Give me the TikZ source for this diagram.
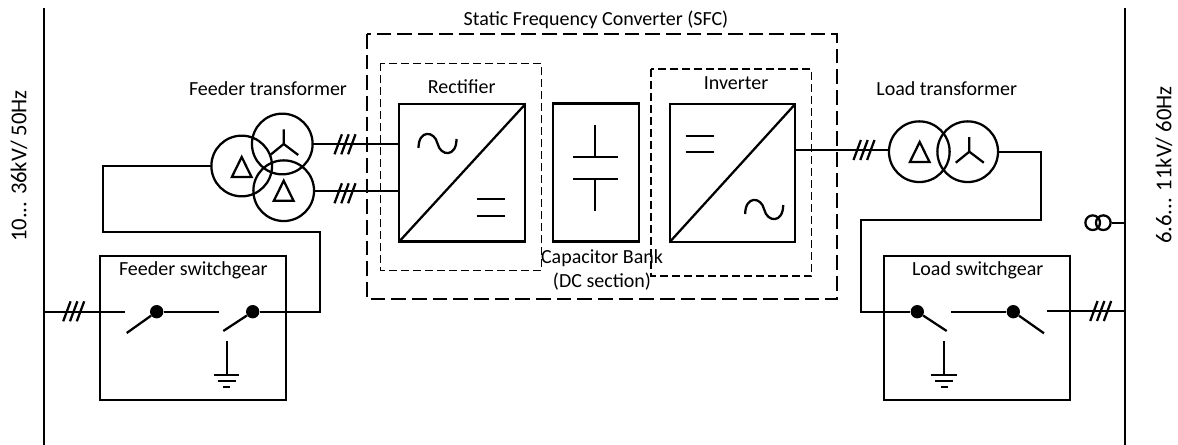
\documentclass[tikz,border=0pt]{standalone}
\usepackage{fontspec}
\setmainfont{Carlito}
\usetikzlibrary{calc}
\tikzset{
  wire/.style={line width=1.7pt,line join=miter},
  blockbox/.style={draw,line width=1.7pt,rectangle,inner sep=0pt,outer sep=0pt},
  winding/.style={draw,line width=1.7pt,circle,inner sep=0pt,outer sep=0pt,minimum size=45.5pt},
  sfcframe/.style={draw,line width=1.7pt,dash pattern=on 11pt off 4.5pt},
  partframe/.style={draw,line width=0.9pt,dash pattern=on 6pt off 3pt},
  contact/.style={circle,fill=black,inner sep=0pt,minimum size=10pt},
  caption/.style={font=\fontsize{15}{18}\selectfont,inner sep=0pt},
  railtext/.style={font=\fontsize{17}{20}\selectfont,inner sep=0pt,rotate=90},
}
\newcommand{\ticks}[2]{\foreach \d in {-6.8,0,6.8}{\draw[wire] (#1+\d-3.7,#2+10) -- (#1+\d+3.7,#2-10);}}
\newcommand{\earth}[2]{
\draw[wire] (#1,341) -- (#1,375);
\draw[wire] (#1-12.7,#2) -- (#1+12.7,#2);
\draw[wire] (#1-9,#2+6) -- (#1+9,#2+6);
\draw[wire] (#1-3.5,#2+12) -- (#1+3.5,#2+12);}
\newcommand{\acwave}[2]{\draw[wire] (#1-19,#2+4.5) .. controls (#1-19,#2-14) and (#1-3,#2-13) .. (#1,#2) .. controls (#1+3,#2+13) and (#1+19,#2+14) .. (#1+19,#2-4.5);}
\newcommand{\dcbars}[3]{\draw[wire] (#1-14,#2) -- (#1+14,#2) (#1-14,#3) -- (#1+14,#3);}
\newcommand{\deltasym}[2]{\draw[wire] (#1,#2-10) -- (#1-9.8,#2+10) -- (#1+9.8,#2+10) -- cycle;}
\newcommand{\wyesym}[2]{\draw[wire] (#1,#2-14.5) -- (#1,#2) (#1-13.5,#2+11) -- (#1,#2) -- (#1+14.5,#2+11);}

\begin{document}
\begin{tikzpicture}[x=0.75pt,y=-0.75pt]
\useasboundingbox (0,0) rectangle (1178,445);
% ---- szyny ----
\coordinate (busLtop) at (44,8);
\coordinate (busLbot) at (44,445);
\coordinate (busRtop) at (1125,8);
\coordinate (busRbot) at (1125,445);
\draw[wire] (busLtop) -- (busLbot);
\draw[wire] (busRtop) -- (busRbot);
\node[railtext] (busLtext) at (19,166) {10... 36kV/ 50Hz};
\node[railtext] (busRtext) at (1164,165) {6.6... 11kV/ 60Hz};
% ---- ramki SFC ----
\draw[sfcframe] (367.3,34) rectangle (837.3,299.3);
\draw[partframe] (380.7,63.3) rectangle (541.3,270.7);
\draw[partframe] (651,69) rectangle (811.7,276);
\node[caption] (sfctext) at (596,20) {Static Frequency Converter (SFC)};
\node[caption] (rectext) at (461.7,86.7) {Rectifier};
\node[caption] (invtext) at (736,83.3) {Inverter};
\node[caption,align=center] (captext) at (602,269.5) {Capacitor Bank\\(DC section)};
% ---- bloki ----
\node[blockbox,minimum width=94.5pt,minimum height=103pt] (rect) at (462.3,172.8) {};
\node[blockbox,minimum width=64.5pt,minimum height=103.5pt] (capbank) at (596.3,172.5) {};
\node[blockbox,minimum width=93.7pt,minimum height=103pt] (inv) at (732.5,173) {};
\draw[wire] (rect.south west) -- (rect.north east);
\draw[wire] (inv.south west) -- (inv.north east);
\acwave{437.5}{143.5}
\dcbars{490.7}{199.3}{216}
\dcbars{699.5}{135.7}{151.7}
\acwave{764.2}{209.5}
\draw[wire] (595.3,125) -- (595.3,157.3) (573.3,157.3) -- (617.7,157.3);
\draw[wire] (573.3,178.7) -- (617.7,178.7) (595.3,178.7) -- (595.3,211.3);
% ---- transformator zasilajacy ----
\node[winding] (feedA) at (241.7,166) {};
\node[winding] (feedB) at (282.3,144) {};
\node[winding] (feedC) at (283.7,190.7) {};
\deltasym{241.7}{167}
\wyesym{283.7}{144}
\deltasym{283.7}{190.7}
\node[caption] (feedtext) at (268,89) {Feeder transformer};
\coordinate (recA) at (rect.west |- feedB.east);
\coordinate (recB) at (rect.west |- feedC.east);
\draw[wire] (feedB.east) -- (recA);
\draw[wire] (feedC.east) -- (recB);
\ticks{345}{144.3}
\ticks{345}{193.3}
% ---- transformator obciazenia ----
\node[winding] (loadA) at (919.3,151.7) {};
\node[winding] (loadB) at (967.7,151.7) {};
\deltasym{919.7}{152}
\wyesym{969.3}{151.7}
\node[caption] (loadtext) at (946.7,89) {Load transformer};
\coordinate (invout) at (inv.east |- 0,150);
\coordinate (loadin) at (loadA.west |- 0,150);
\draw[wire] (invout) -- (loadin);
\ticks{864}{150}
% ---- rozdzielnica zasilajaca ----
\node[blockbox,minimum width=139.5pt,minimum height=108pt] (feedbox) at (193,328) {};
\node[caption] (feedboxtext) at (193.3,270) {Feeder switchgear};
\node[contact] (feedS) at (156.7,311.7) {};
\node[contact] (feedT) at (252.7,311.7) {};
\coordinate (feedSin) at (124.7,311.7);
\coordinate (feedTin) at (219,311.7);
\draw[wire] (busLtop |- feedSin) -- (feedSin);
\draw[wire] (feedS) -- (feedTin);
\draw[wire] (feedS) -- (126.7,333);
\draw[wire] (feedT) -- (223.3,331);
\draw[wire] (feedA.west) -- (103,166) -- (103,232) -- (320,232) -- (320,311.7) -- (feedT);
\ticks{73.7}{311.3}
\earth{226.7}{375}
% ---- rozdzielnica obciazenia ----
\node[blockbox,minimum width=139.5pt,minimum height=108pt] (loadbox) at (977,328) {};
\node[caption] (loadboxtext) at (977.7,270) {Load switchgear};
\node[contact] (loadS) at (917.3,311.7) {};
\node[contact] (loadT) at (1013.3,311.7) {};
\coordinate (loadTin) at (951,311.7);
\coordinate (loadTout) at (1047.3,311);
\draw[wire] (loadTin) -- (loadT);
\draw[wire] (loadT) -- (1044,333.3);
\draw[wire] (loadS) -- (946.7,331);
\draw[wire] (loadTout) -- (busRtop |- loadTout);
\draw[wire] (loadB.east) -- (1040.7,151.7) -- (1040.7,220) -- (860.7,220) -- (860.7,311.7) -- (loadS);
\ticks{1100.7}{311}
\earth{944}{375}
% ---- przekladnik ----
\node[draw,line width=1.7pt,circle,inner sep=0pt,minimum size=11pt] (ctA) at (1092.7,222.7) {};
\node[draw,line width=1.7pt,circle,inner sep=0pt,minimum size=11pt] (ctB) at (1103.3,222.7) {};
\draw[wire] (ctB.east) -- (busRtop |- ctB.east);
\end{tikzpicture}
\end{document}
